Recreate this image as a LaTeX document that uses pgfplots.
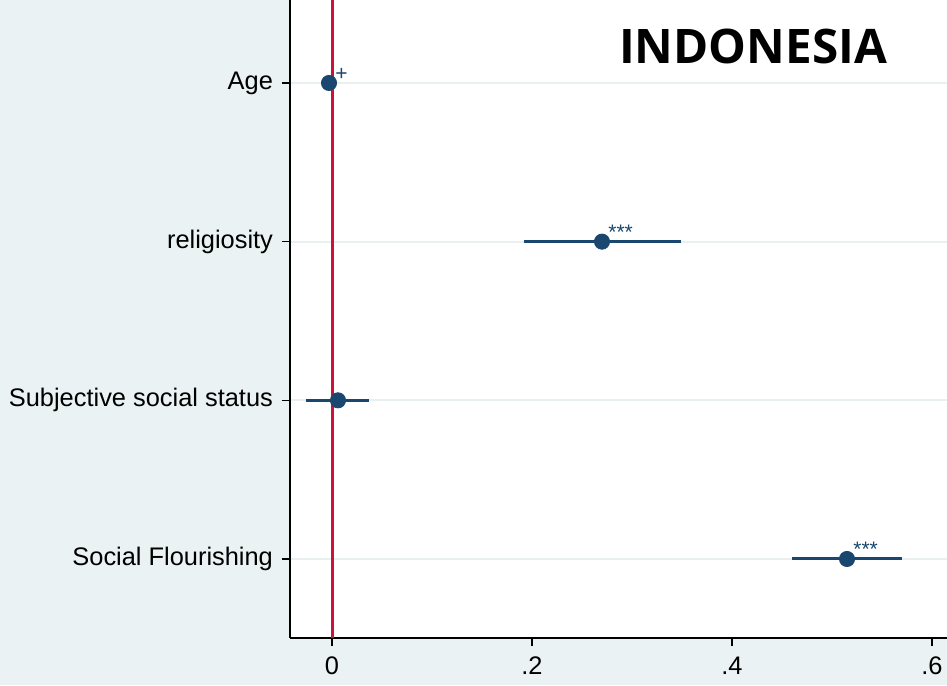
\documentclass[border=0pt]{standalone}
\usepackage{pgfplots}
\usepackage{pgfplotstable}
\pgfplotsset{compat=1.18}
\usepackage{fontspec}
\setmainfont{Liberation Sans}
\newfontfamily\titlefont{Open Sans}

\definecolor{bgc}{RGB}{234,242,243}
\definecolor{gridc}{RGB}{232,240,242}
\definecolor{navy}{RGB}{26,71,111}
\definecolor{redc}{RGB}{205,18,58}

% coefficient, 95% CI and significance marker
\pgfplotstableread{
y x lo hi lab
4 -0.003 -0.008 0.002 +
3 0.270 0.192 0.349 ***
2 0.006 -0.026 0.037 {}
1 0.515 0.460 0.570 ***
}\coefs

\begin{document}
\begin{tikzpicture}
\fill[bgc] (0,0) rectangle (473.5pt,342.5pt);
\begin{axis}[
  at={(145pt,23.5pt)}, anchor=south west,
  scale only axis, width=328.5pt, height=319pt,
  xmin=-0.042, xmax=0.615, ymin=0.502, ymax=4.523,
  axis x line=bottom, axis y line=left,
  axis line style={-, black, line width=0.7pt},
  axis background/.style={fill=white},
  tick align=outside, major tick length=4pt,
  tick style={black, line width=0.7pt},
  xtick={0,0.2,0.4,0.6}, xticklabels={0,.2,.4,.6},
  ytick={1,2,3,4},
  yticklabels={Social Flourishing,Subjective social status,religiosity,Age},
  ymajorgrids, grid style={gridc, line width=1pt},
  ticklabel style={font=\fontsize{12.7}{14}\selectfont},
  /pgf/number format/assume math mode=true,
  xticklabel style={yshift=-2pt},
  yticklabel style={xshift=-1pt},
  clip=false,
]
\addplot[redc, line width=1.5pt] coordinates {(0,0.502) (0,4.523)};
\addplot[navy, only marks, mark=*, mark size=3.8pt,
  mark options={fill=navy, draw=navy},
  error bars/.cd, x dir=both, x explicit, error mark=none,
  error bar style={navy, line width=1.5pt}]
  table[x=x, y=y,
    x error plus expr=\thisrow{hi}-\thisrow{x},
    x error minus expr=\thisrow{x}-\thisrow{lo}] {\coefs};
\addplot[navy, only marks, mark=none,
  point meta=explicit symbolic,
  nodes near coords,
  every node near coord/.style={anchor=base west, inner sep=0pt,
    xshift=3pt, yshift=1pt, text=navy, font=\fontsize{10.5}{11}\selectfont}]
  table[x=x, y=y, meta=lab] {\coefs};
\end{axis}
\node[font=\titlefont\bfseries\fontsize{23.8}{27}\selectfont, anchor=center]
  at (376.5pt,319.5pt) {INDONESIA};
% the page is exactly the background panel
\pgfresetboundingbox
\useasboundingbox (0,0) rectangle (473.5pt,342.5pt);
\end{tikzpicture}
\end{document}
